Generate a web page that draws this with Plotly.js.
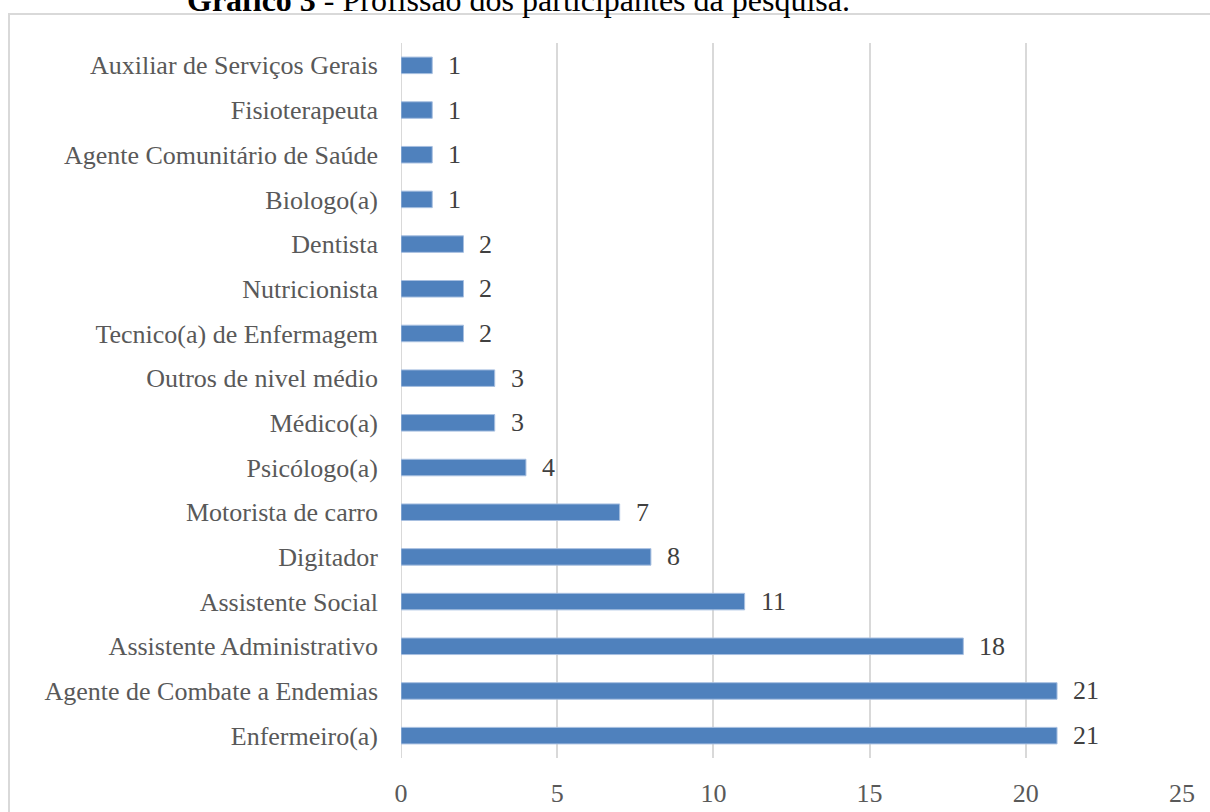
<!DOCTYPE html>
<html>
<head>
<meta charset="utf-8">
<script src="https://cdn.plot.ly/plotly-3.0.1.min.js"></script>
<style>
html,body{margin:0;padding:0;background:#fff;overflow:hidden;}
#chart{width:1210px;height:812px;}
</style>
</head>
<body>
<div id="chart"></div>
<script>
const categories = [
  "Auxiliar de Serviços Gerais",
  "Fisioterapeuta",
  "Agente Comunitário de Saúde",
  "Biologo(a)",
  "Dentista",
  "Nutricionista",
  "Tecnico(a) de Enfermagem",
  "Outros de nivel médio",
  "Médico(a)",
  "Psicólogo(a)",
  "Motorista de carro",
  "Digitador",
  "Assistente Social",
  "Assistente Administrativo",
  "Agente de Combate a Endemias",
  "Enfermeiro(a)"
];
const values = [1, 1, 1, 1, 2, 2, 2, 3, 3, 4, 7, 8, 11, 18, 21, 21];
const xTicks = [0, 5, 10, 15, 20, 25];
const titleBold = "Gráfico 3";
const titleRest = " - Profissão dos participantes da pesquisa.";

const W = 1210, H = 812;
const M = {l: 401, r: 28, t: 43, b: 54};
const pw = W - M.l - M.r, ph = H - M.t - M.b;
const px2x = p => (p - M.l) / pw;
const py2y = p => 1 - (p - M.t) / ph;
const SERIF = '"Liberation Serif", "Times New Roman", serif';

const trace = {
  type: 'bar',
  orientation: 'h',
  y: categories,
  x: values,
  marker: {color: '#4f81bd', line: {color: '#a7bfe0', width: 1}},
  hoverinfo: 'x+y'
};

const labelAnn = categories.map((c, i) => ({
  x: values[i], y: c, xref: 'x', yref: 'y',
  text: String(values[i]), showarrow: false,
  xanchor: 'left', yanchor: 'middle', xshift: 14,
  font: {family: SERIF, size: 26, color: '#404040'}
}));

const layout = {
  width: W, height: H,
  margin: M,
  paper_bgcolor: '#fff', plot_bgcolor: '#fff',
  showlegend: false,
  bargap: 0.63,
  font: {family: SERIF, size: 26, color: '#595959'},
  xaxis: {
    range: [0, 25], tickvals: xTicks, ticktext: xTicks.map(String),
    showgrid: true, gridcolor: '#d9d9d9', gridwidth: 2,
    zeroline: false, showline: false, ticks: '',
    ticklabelstandoff: 17,
    tickfont: {family: SERIF, size: 26, color: '#595959'},
    fixedrange: true
  },
  yaxis: {
    type: 'category', autorange: 'reversed',
    showgrid: false, zeroline: false, showline: false,
    ticks: '', ticklabelstandoff: 22,
    tickfont: {family: SERIF, size: 26, color: '#595959'},
    fixedrange: true
  },
  shapes: [
    {type: 'line', xref: 'x', yref: 'paper', x0: 0, x1: 0, y0: 0, y1: 1,
     line: {color: '#d9d9d9', width: 2}, layer: 'below'},
    {type: 'rect', xref: 'paper', yref: 'paper',
     x0: px2x(9), x1: px2x(W + 20), y0: py2y(H + 20), y1: py2y(14),
     line: {color: '#d9d9d9', width: 2}, fillcolor: 'rgba(0,0,0,0)', layer: 'below'}
  ],
  annotations: labelAnn.concat([{
    xref: 'paper', yref: 'paper',
    x: px2x(518), y: py2y(14),
    xanchor: 'center', yanchor: 'bottom', yshift: -6,
    showarrow: false,
    text: '<b>' + titleBold + '</b>' + titleRest,
    font: {family: SERIF, size: 32, color: '#000'}
  }])
};

Plotly.newPlot('chart', [trace], layout, {displayModeBar: false, staticPlot: true});
</script>
</body>
</html>
